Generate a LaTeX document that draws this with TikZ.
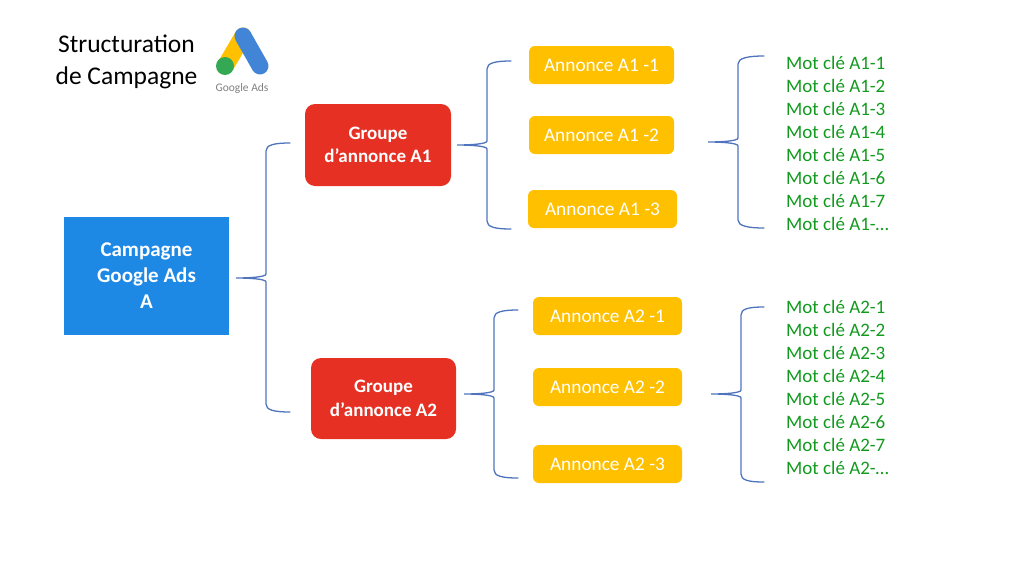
\documentclass[tikz,border=0pt]{standalone}
\usepackage{fontspec}
\setmainfont{Carlito}
\usetikzlibrary{calc}
\definecolor{campblue}{HTML}{1E88E5}
\definecolor{grpred}{HTML}{E53023}
\definecolor{annyellow}{HTML}{FFC000}
\definecolor{motgreen}{HTML}{119A1E}
\definecolor{bracecol}{HTML}{4F74BD}
\definecolor{logoblue}{HTML}{4285D6}
\definecolor{logogreen}{HTML}{34A853}
\tikzset{
  campagne/.style={fill=campblue, text=white, font=\fontsize{21}{26}\selectfont\bfseries, align=center, inner sep=0pt},
  groupe/.style={fill=grpred, text=white, rounded corners=10pt, font=\fontsize{19}{23.5}\selectfont\bfseries, align=center, inner sep=0pt},
  annonce/.style={fill=annyellow, text=white, rounded corners=6pt, font=\fontsize{19.3}{20}\selectfont, inner sep=0pt},
  motcle/.style={text=motgreen, anchor=west, font=\fontsize{19}{20}\selectfont, inner sep=0pt},
  accolade/.style={draw=bracecol, line width=1.3pt, line cap=round},
}
\newcommand{\accolade}[3]{
\draw[accolade] (#2) .. controls +(-16,0) and +(0,-6) .. ($(#1 |- #2)+(30,8)$)
  -- ($(#1)+(30,-4)$) .. controls +(0,3) and +(14,0) .. (#1)
  .. controls +(14,0) and +(0,-3) .. ($(#1)+(30,4)$)
  -- ($(#1 |- #3)+(30,-8)$) .. controls +(0,6) and +(-16,0) .. (#3);
}
\begin{document}
\begin{tikzpicture}[x=1pt, y=-1pt]
\useasboundingbox (0,0) rectangle (1024,576);
% titre et logo
\node[align=center, inner sep=0pt, font=\fontsize{25.5}{32}\selectfont] (titre) at (126.5,62) {Structuration\\de Campagne};
\draw[annyellow, line width=17pt, line cap=round] (243,36) -- (226,65);
\draw[logoblue, line width=17pt, line cap=round] (243,36) -- (260,66);
\fill[logogreen] (225,66) circle (9);
\node[text=gray, inner sep=0pt, font=\fontsize{11.5}{12}\selectfont] (logotexte) at (242,88) {Google Ads};
% campagne
\node[campagne, minimum width=165pt, minimum height=118pt] (camp) at (146.5,276) {Campagne\\Google Ads\\A};
% groupes
\node[groupe, minimum width=146pt, minimum height=82pt] (grpA1) at (378,145) {Groupe\\d’annonce A1};
\node[groupe, minimum width=145pt, minimum height=81pt] (grpA2) at (383.5,398.5) {Groupe\\d’annonce A2};
% annonces
\node[annonce, minimum width=145pt, minimum height=38pt] (annA11) at (601.5,65) {Annonce A1 -1};
\node[annonce, minimum width=145pt, minimum height=38pt] (annA12) at (601.5,135) {Annonce A1 -2};
\node[annonce, minimum width=149pt, minimum height=38pt] (annA13) at (602.5,209) {Annonce A1 -3};
\node[annonce, minimum width=149pt, minimum height=38pt] (annA21) at (607.5,316) {Annonce A2 -1};
\node[annonce, minimum width=149pt, minimum height=38pt] (annA22) at (607.5,387) {Annonce A2 -2};
\node[annonce, minimum width=149pt, minimum height=38pt] (annA23) at (607.5,464) {Annonce A2 -3};
% mots cles
\foreach \i/\lab in {1/1,2/2,3/3,4/4,5/5,6/6,7/7,8/…}{
  \node[motcle] (motA1\i) at (786,{62.5+23*(\i-1)}) {Mot clé A1-\lab};
  \node[motcle] (motA2\i) at (786,{306.5+23*(\i-1)}) {Mot clé A2-\lab};
}
% accolades
\coordinate (brA) at (236,278);
\coordinate (brAh) at (290,143);
\coordinate (brAb) at (290,412);
\coordinate (brB) at (457,145);
\coordinate (brBh) at (511,61);
\coordinate (brBb) at (511,229);
\coordinate (brC) at (708,142);
\coordinate (brCh) at (764,56);
\coordinate (brCb) at (764,228);
\coordinate (brD) at (464,394);
\coordinate (brDh) at (518,310);
\coordinate (brDb) at (518,478);
\coordinate (brE) at (711,394);
\coordinate (brEh) at (764,307);
\coordinate (brEb) at (764,482);
\accolade{brA}{brAh}{brAb}
\accolade{brB}{brBh}{brBb}
\accolade{brC}{brCh}{brCb}
\accolade{brD}{brDh}{brDb}
\accolade{brE}{brEh}{brEb}
\end{tikzpicture}
\end{document}
